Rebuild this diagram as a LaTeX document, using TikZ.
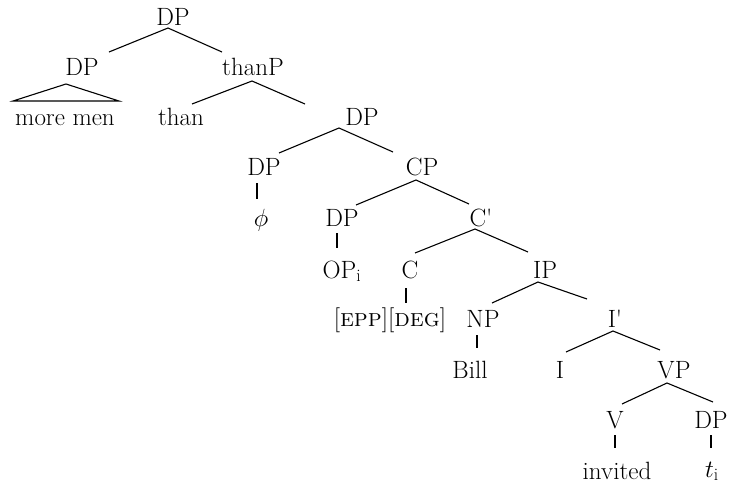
\documentclass[tikz,border=0pt]{standalone}
\usepackage{fontspec}
\usetikzlibrary{calc}
\begin{document}
\begin{tikzpicture}[x=1pt,y=-1pt,
  lbl/.style={inner sep=0pt,anchor=base,font=\fontsize{25}{29}\selectfont},
  edge/.style={line width=1.1pt}]
\useasboundingbox (0,0) rectangle (732,485);
% nodes
\node[lbl] (dp0) at (173,25) {DP};
\node[lbl] (dp1) at (82,75) {DP};
\node[lbl] (thanp) at (253,75) {thanP};
\node[lbl] (moremen) at (65,125) {more men};
\node[lbl] (than) at (181,125) {than};
\node[lbl] (dp2) at (362,125) {DP};
\node[lbl] (dp3) at (264,175) {DP};
\node[lbl] (cp) at (422,175) {CP};
\node[lbl] (phi) at (261,226) {$\phi$};
\node[lbl] (dp4) at (342,226) {DP};
\node[lbl] (cbar) at (481,226) {C\textquotesingle};
\node[lbl] (op) at (342,278) {OP$_{\mathrm{i}}$};
\node[lbl] (c) at (410,278) {C};
\node[lbl] (ip) at (545,278) {IP};
\node[lbl] (epp) at (390,326) {[\textsc{epp}][\textsc{deg}]};
\node[lbl] (np) at (483,327) {NP};
\node[lbl] (ibar) at (615,327) {I\textquotesingle};
\node[lbl] (bill) at (470,378) {Bill};
\node[lbl] (inode) at (560,378) {I};
\node[lbl] (vp) at (674,378) {VP};
\node[lbl] (v) at (615,428) {V};
\node[lbl] (dp5) at (711,428) {DP};
\node[lbl] (invited) at (617,479) {invited};
\node[lbl] (ti) at (712,477) {$t_{\mathrm{i}}$};
% edges
\draw[edge] ($(dp1.base)+(27,-23)$) -- ($(dp0.base)+(-5,3)$) -- ($(thanp.base)+(-31,-23)$);
\draw[edge] ($(moremen.base)+(-52,-24)$) -- ($(dp1.base)+(-16,9)$) -- ($(moremen.base)+(54,-24)$) -- cycle;
\draw[edge] ($(than.base)+(11,-21)$) -- ($(thanp.base)+(-1,6)$) -- ($(dp2.base)+(-57,-21)$);
\draw[edge] ($(dp3.base)+(15,-22)$) -- ($(dp2.base)+(-23,3)$) -- ($(cp.base)+(-29,-23)$);
\draw[edge] ($(dp3.base)+(-7,8)$) -- ($(phi.base)+(-4,-27)$);
\draw[edge] ($(dp4.base)+(14,-21)$) -- ($(cp.base)+(-6,5)$) -- ($(cbar.base)+(-12,-22)$);
\draw[edge] ($(dp4.base)+(-5,7)$) -- ($(op.base)+(-5,-30)$);
\draw[edge] ($(c.base)+(5,-25)$) -- ($(cbar.base)+(-6,3)$) -- ($(ip.base)+(-17,-26)$);
\draw[edge] ($(c.base)+(-4,10)$) -- ($(epp.base)+(16,-23)$);
\draw[edge] ($(np.base)+(9,-24)$) -- ($(ip.base)+(-7,4)$) -- ($(ibar.base)+(-28,-28)$);
\draw[edge] ($(np.base)+(-6,8)$) -- ($(bill.base)+(7,-30)$);
\draw[edge] ($(inode.base)+(6,-26)$) -- ($(ibar.base)+(-2,4)$) -- ($(vp.base)+(-14,-28)$);
\draw[edge] ($(v.base)+(7,-24)$) -- ($(vp.base)+(-7,5)$) -- ($(dp5.base)+(2,-26)$);
\draw[edge] ($(v.base)+(0,7)$) -- ($(invited.base)+(-2,-31)$);
\draw[edge] ($(dp5.base)+(0,7)$) -- ($(ti.base)+(-1,-29)$);
\end{tikzpicture}
\end{document}
